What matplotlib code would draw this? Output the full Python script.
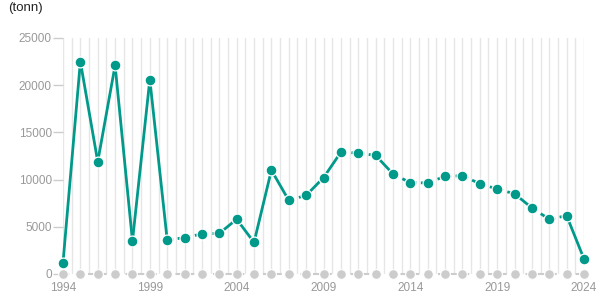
import matplotlib
matplotlib.use("Agg")
import matplotlib.pyplot as plt
import numpy as np

plt.rcParams['font.family'] = ['Liberation Sans', 'DejaVu Sans']

years = list(range(1994, 2025))
values = [1200, 22500, 11900, 22100, 3500, 20600, 3600, 3850, 4250, 4300,
          5800, 3350, 11000, 7800, 8330, 10200, 12900, 12800, 12570, 10600,
          9670, 9650, 10350, 10400, 9570, 9000, 8500, 7000, 5800, 6180, 1590]
yticks = [0, 5000, 10000, 15000, 20000, 25000]
xtick_years = [1994, 1999, 2004, 2009, 2014, 2019, 2024]
unit_label = "(tonn)"

teal = '#00998a'
grey = '#cccccc'

fig = plt.figure(figsize=(6.15, 3.05), dpi=100)
ax = fig.add_axes([63/615, 31/305, 521/615, 236/305])
ax.set_xlim(1994, 2024)
ax.set_ylim(0, 25000)

# vertical half-year grid
for gx in np.arange(1994, 2024.01, 0.5):
    ax.axvline(gx, color='#e6e6e6', lw=1, zorder=0)

for s in ax.spines.values():
    s.set_visible(False)

# baseline series (zeros)
ax.plot(years, [0]*len(years), color=grey, lw=1.5, ls=(0, (3, 3)),
        marker='o', ms=7, mfc=grey, mec='white', mew=0.8, clip_on=False, zorder=2)

# main series: solid for steep segments, dashed for gentle ones
for i in range(len(years) - 1):
    dy = abs(values[i+1] - values[i])
    ls = '-' if dy >= 1450 else (0, (2.2, 1.6))
    ax.plot(years[i:i+2], values[i:i+2], color=teal, lw=2, ls=ls,
            solid_capstyle='butt', clip_on=False, zorder=3)
ax.plot(years, values, ls='none', marker='o', ms=7.8, mfc=teal, mec='white',
        mew=0.9, clip_on=False, zorder=4)

ax.set_yticks(yticks)
ax.set_yticklabels([str(v) for v in yticks])
ax.set_xticks(xtick_years)
ax.set_xticklabels([str(v) for v in xtick_years])
ax.tick_params(axis='y', colors='#cccccc', labelcolor='#999999', labelsize=8.5,
               length=7, width=1, pad=1)
ax.tick_params(axis='x', colors='#999999', labelcolor='#999999', labelsize=8.5,
               length=0, pad=6)

fig.text(8/615, 1 - 8/305, unit_label, fontsize=9.5, color='#222222', va='center', ha='left')

fig.savefig('out.png', dpi=100)
